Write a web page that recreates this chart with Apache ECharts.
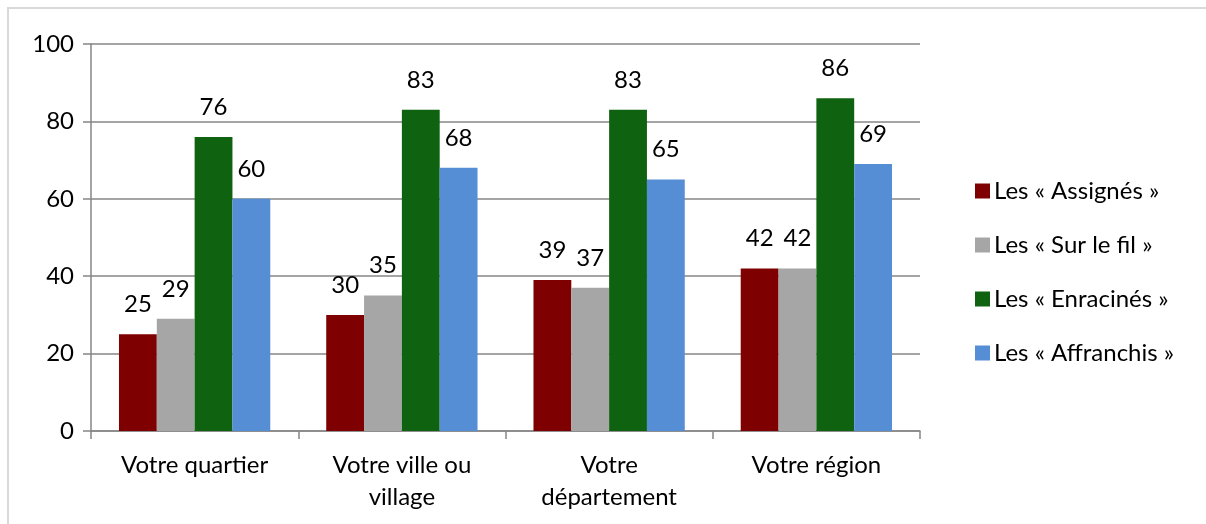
<!DOCTYPE html>
<html>
<head>
<meta charset="utf-8">
<script src="https://cdn.jsdelivr.net/npm/echarts@6/dist/echarts.min.js"></script>
<style>
  html, body { margin: 0; padding: 0; background: #fff; }
  #main { width: 1206px; height: 524px; }
</style>
</head>
<body>
<div id="main"></div>
<script>
var categories = ['Votre quartier', 'Votre ville ou\nvillage', 'Votre\ndépartement', 'Votre région'];
var seriesNames = ['Les « Assignés »', 'Les « Sur le fil »', 'Les « Enracinés »', 'Les « Affranchis »'];
var assignes = [25, 30, 39, 42];
var surLeFil = [29, 35, 37, 42];
var enracines = [76, 83, 83, 86];
var affranchis = [60, 68, 65, 69];
var colors = ['#7f0000', '#a6a6a6', '#0f620f', '#558ed5'];

var font = 'Lato, "Open Sans", sans-serif';
var chart = echarts.init(document.getElementById('main'), null, { renderer: 'canvas' });

function makeSeries(i, data) {
    return {
        name: seriesNames[i],
        type: 'bar',
        data: data,
        barGap: '0%',
        barCategoryGap: '27%',
        itemStyle: { color: colors[i] },
        label: {
            show: true,
            position: 'top',
            distance: 18,
            color: '#000',
            fontFamily: font,
            fontSize: 24
        }
    };
}

var option = {
    animation: false,
    textStyle: { fontFamily: font },
    graphic: [{
        type: 'rect',
        shape: { x: 8, y: 8, width: 1210, height: 530 },
        style: { fill: 'none', stroke: '#d9d9d9', lineWidth: 2 },
        silent: true
    }],
    grid: { left: 91, right: 286, top: 44, bottom: 93 },
    legend: {
        orient: 'vertical',
        left: 970,
        top: 174,
        itemWidth: 15,
        itemHeight: 15,
        itemGap: 30,
        icon: 'rect',
        textStyle: { fontFamily: font, fontSize: 24, lineHeight: 24, color: '#000', padding: [0, 0, 0, -1] },
        data: seriesNames
    },
    xAxis: {
        type: 'category',
        data: categories,
        axisLine: { lineStyle: { color: '#868686', width: 1.5 } },
        axisTick: { show: true, length: 8, lineStyle: { color: '#868686', width: 1.5 } },
        axisLabel: { color: '#000', fontSize: 24, lineHeight: 32, margin: 18, fontFamily: font }
    },
    yAxis: {
        type: 'value',
        min: 0,
        max: 100,
        interval: 20,
        axisLine: { show: true, lineStyle: { color: '#868686', width: 1.5 } },
        axisTick: { show: true, length: 8, lineStyle: { color: '#868686', width: 1.5 } },
        splitLine: { lineStyle: { color: '#868686', width: 1.5 } },
        axisLabel: { color: '#000', fontSize: 24, margin: 17, fontFamily: font }
    },
    series: [
        makeSeries(0, assignes),
        makeSeries(1, surLeFil),
        makeSeries(2, enracines),
        makeSeries(3, affranchis)
    ]
};

chart.setOption(option);
window.addEventListener('resize', chart.resize);
</script>
</body>
</html>
